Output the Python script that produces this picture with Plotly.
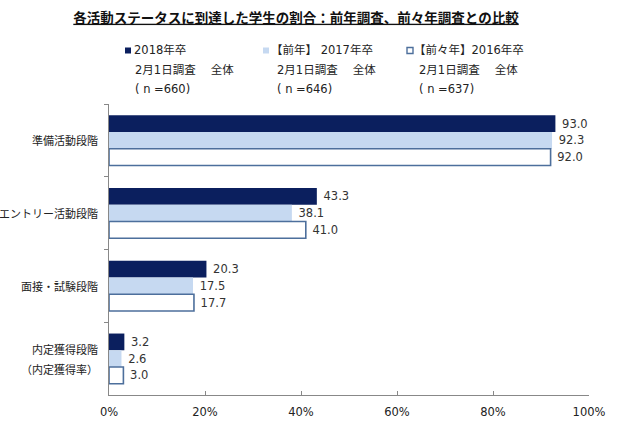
import plotly.graph_objects as go

# ---- data ----
category_lines = [["準備活動段階"], ["エントリー活動段階"], ["面接・試験段階"], ["内定獲得段階", "（内定獲得率）"]]
categories = ["".join(c) for c in category_lines]
series_names = ["2018年卒", "【前年】 2017年卒", "【前々年】2016年卒"]
survey_label = "2月1日調査　 全体"
sample_sizes = [660, 646, 637]
values_2018 = [93.0, 43.3, 20.3, 3.2]
values_2017 = [92.3, 38.1, 17.5, 2.6]
values_2016 = [92.0, 41.0, 17.7, 3.0]
x_ticks = [0, 20, 40, 60, 80, 100]
x_tick_labels = ["0%", "20%", "40%", "60%", "80%", "100%"]
title_text = "各活動ステータスに到達した学生の割合：前年調査、前々年調査との比較"

# ---- style ----
W, H = 640, 432
L, R, T, B = 109, 51, 104, 37
DARK = "#0b1f5e"
LIGHT = "#c6d9f1"
OUTLINE = "#4d6f9c"
JP = "Noto Sans CJK JP"
MIX = "DejaVu Sans, Noto Sans CJK JP"
NUM = "DejaVu Sans"

fills = [DARK, LIGHT, "white"]
lines = [DARK, LIGHT, OUTLINE]
line_w = [0, 0, 1.6]
series_vals = [values_2018, values_2017, values_2016]

fig = go.Figure()
for name, vals, fc, lc, lw in zip(series_names, series_vals, fills, lines, line_w):
    fig.add_trace(go.Bar(
        y=categories, x=vals, orientation="h", name=name,
        marker=dict(color=fc, line=dict(color=lc, width=lw)),
        text=[f" {v:.1f}" for v in vals], textposition="outside",
        textfont=dict(family=NUM, size=11.5, color="#333"),
        cliponaxis=False, showlegend=False, hoverinfo="skip",
    ))

pw, ph = W - L - R, H - T - B
def px(x):
    return (x - L) / pw
def py(y):
    return (H - B - y) / ph

annotations = []
shapes = []

# category labels (placed on the category axis)
for cat, parts in zip(categories, category_lines):
    n = len(parts)
    for j, part in enumerate(parts):
        annotations.append(dict(text=part, xref="paper", yref="y", x=px(100), y=cat,
                                xanchor="right", yanchor="middle", showarrow=False,
                                yshift=(n - 1) * 10 - j * 20,
                                font=dict(family=JP, size=11, color="#222")))

# manual legend
sq_x = [125, 263, 407]
line1_x = [132, 269, 412]
line23_x = [133, 275, 417]
row_y = [50, 70, 89]
for i in range(3):
    shapes.append(dict(type="rect", xref="paper", yref="paper",
                       x0=px(sq_x[i]), x1=px(sq_x[i] + 6), y0=py(53.5), y1=py(47.5),
                       fillcolor=fills[i] if i < 2 else "white",
                       line=dict(color=lines[i], width=1.4 if i == 2 else 0)))
    texts = [series_names[i], survey_label, f"( n ={sample_sizes[i]})"]
    xs = [line1_x[i], line23_x[i], line23_x[i]]
    for t, xx, yy in zip(texts, xs, row_y):
        annotations.append(dict(text=t, xref="paper", yref="paper", x=px(xx), y=py(yy),
                                xanchor="left", yanchor="middle", showarrow=False,
                                font=dict(family=MIX, size=11.5, color="#222")))

fig.update_layout(
    width=W, height=H,
    margin=dict(l=L, r=R, t=T, b=B, autoexpand=False),
    paper_bgcolor="white", plot_bgcolor="white",
    barmode="group", bargap=0.31, bargroupgap=0,
    title=dict(text=f"<u><b>{title_text}</b></u>", x=296 / W, xanchor="center",
               y=1 - 18 / H, yanchor="middle", yref="container",
               font=dict(family=JP, size=13.5, color="#111")),
    xaxis=dict(range=[0, 100], tickvals=x_ticks, ticktext=x_tick_labels, automargin=False,
               showgrid=False, zeroline=False, showline=True, linecolor="#888", linewidth=1,
               ticks="inside", ticklen=4, tickcolor="#888",
               tickfont=dict(family=NUM, size=11.5, color="#222"), ticklabelstandoff=6),
    yaxis=dict(autorange="reversed", showgrid=False, zeroline=False, automargin=False,
               showline=True, linecolor="#888", linewidth=1, showticklabels=False,
               ticks="outside", ticklen=4, tickcolor="#888", tickson="boundaries"),
    shapes=shapes, annotations=annotations,
)

fig.write_html("out.html", config={"displayModeBar": False},
               post_script="document.body.style.margin='0';")
